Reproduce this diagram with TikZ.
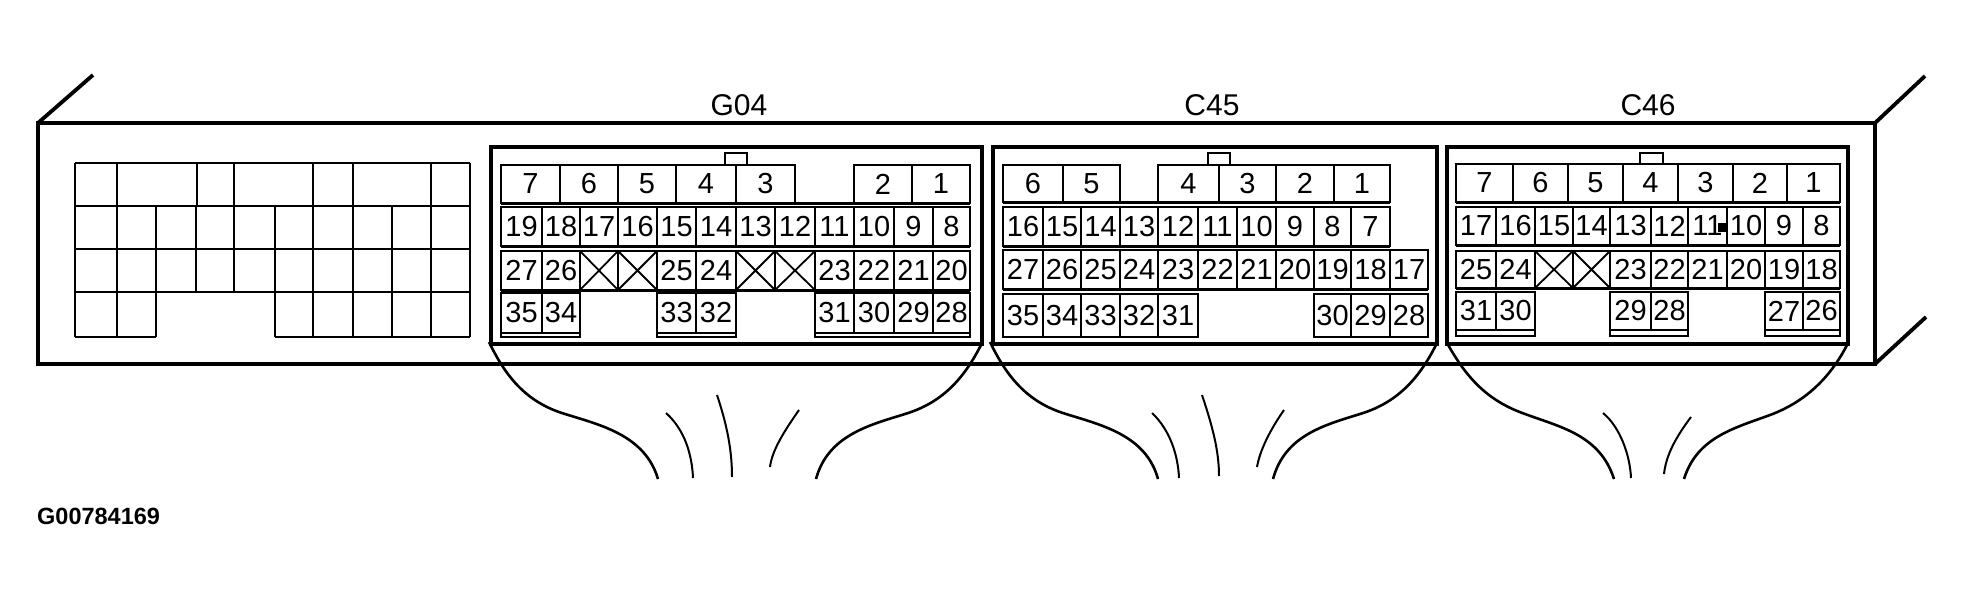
\documentclass[tikz,border=0pt]{standalone}
\usepackage{fontspec}
\setmainfont{Liberation Sans}

\tikzset{
  frameline/.style={line width=3.8pt,line join=miter},
  gridline/.style={line width=2pt},
  pinbox/.style={line width=1.8pt},
  sepline/.style={line width=3pt},
  wirebig/.style={line width=2.6pt},
  wiresmall/.style={line width=2pt},
  pinlabel/.style={inner sep=0pt,font=\fontsize{29}{29}\selectfont},
  title/.style={inner sep=0pt,font=\fontsize{30}{30}\selectfont},
}

% one row of pin cells: prefix, top, bottom, list of left/right/label
\newcommand{\pinrow}[4]{
  \foreach \xa/\xb/\lab in {#4} {
    \draw[pinbox] (\xa,#2) rectangle (\xb,#3);
    \node[pinlabel] (#1-\lab) at ({(\xa+\xb)/2},{(#2+#3)/2}) {\lab};
  }
}
% blanked cells with a cross
\newcommand{\pincross}[3]{
  \foreach \xa/\xb in {#3} {
    \draw[pinbox] (\xa,#1) rectangle (\xb,#2);
    \draw[pinbox] (\xa,#1) -- (\xb,#2) (\xa,#2) -- (\xb,#1);
  }
}

\begin{document}
\begin{tikzpicture}[x=1pt,y=-1pt]
\useasboundingbox (0,0) rectangle (1965,599);

% housing
\draw[frameline] (38,123) rectangle (1875,364);
\draw[frameline] (38,123) -- (93,75);
\draw[frameline] (1875,123) -- (1925,76);
\draw[frameline] (1875,364) -- (1926,317);

% blank socket on the left
\foreach \y in {163,206,249,292} { \draw[gridline] (75,\y) -- (470,\y); }
\draw[gridline] (75,337) -- (156,337);
\draw[gridline] (275,337) -- (470,337);
\foreach \x in {75,117,197,234,313,353,431,470} { \draw[gridline] (\x,163) -- (\x,206); }
\foreach \x in {75,117,156,196,234,275,313,353,392,431,470} { \draw[gridline] (\x,206) -- (\x,292); }
\foreach \x in {75,117,156,275,313,353,392,431,470} { \draw[gridline] (\x,292) -- (\x,337); }

% G04
\node[title] (titleG) at (739,105) {G04};
\draw[frameline] (491,147) rectangle (982,344);
\draw[pinbox] (725,165) -- (725,153) -- (747,153) -- (747,165);
\pinrow{g}{165}{203}{501/560/7,560/618/6,618/676/5,676/736/4,736/795/3,854/912/2,912/970/1}
\pinrow{g}{207}{246}{501/542/19,542/580/18,580/618/17,618/657/16,657/696/15,696/736/14,736/775/13,775/815/12,815/854/11,854/894/10,894/933/9,933/970/8}
\pinrow{g}{251}{290}{501/542/27,542/580/26,657/696/25,696/736/24,815/854/23,854/894/22,894/933/21,933/970/20}
\pincross{251}{290}{580/618,618/657,736/775,775/815}
\pinrow{g}{293}{333}{501/542/35,542/580/34,657/696/33,696/736/32,815/854/31,854/894/30,894/933/29,933/970/28}
\foreach \y in {203,246,290} { \draw[sepline] (501,\y) -- (970,\y); }
\foreach \xa/\xb in {501/580,657/736,815/970} {
  \draw[pinbox] (\xa,333) rectangle (\xb,337);
}

% C45
\node[title] (titleC) at (1212,105) {C45};
\draw[frameline] (993,147) rectangle (1437,344);
\draw[pinbox] (1208,165) -- (1208,153) -- (1230,153) -- (1230,165);
\pinrow{c}{165}{202}{1003/1063/6,1063/1120/5,1158/1219/4,1219/1276/3,1276/1334/2,1334/1390/1}
\pinrow{c}{207}{246}{1003/1043/16,1043/1081/15,1081/1120/14,1120/1158/13,1158/1198/12,1198/1237/11,1237/1276/10,1276/1314/9,1314/1351/8,1351/1390/7}
\pinrow{c}{250}{289}{1003/1043/27,1043/1081/26,1081/1120/25,1120/1158/24,1158/1198/23,1198/1237/22,1237/1276/21,1276/1314/20,1314/1351/19,1351/1390/18,1390/1428/17}
\pinrow{c}{294}{337}{1003/1043/35,1043/1081/34,1081/1120/33,1120/1158/32,1158/1198/31,1314/1351/30,1351/1390/29,1390/1428/28}
\draw[sepline] (1003,202) -- (1390,202);
\draw[sepline] (1003,246) -- (1390,246);
\draw[sepline] (1003,289) -- (1428,289);

% C46
\node[title] (titleD) at (1648,105) {C46};
\draw[frameline] (1447,147) rectangle (1848,344);
\draw[pinbox] (1640,164) -- (1640,153) -- (1663,153) -- (1663,164);
\pinrow{d}{164}{202}{1456/1513/7,1513/1568/6,1568/1623/5,1623/1678/4,1678/1733/3,1733/1787/2,1787/1840/1}
\pinrow{d}{207}{245}{1456/1496/17,1496/1535/16,1535/1573/15,1573/1610/14,1610/1651/13,1651/1688/12,1688/1727/11,1727/1765/10,1765/1803/9,1803/1840/8}
\pinrow{d}{251}{288}{1456/1496/25,1496/1535/24,1610/1651/23,1651/1688/22,1688/1727/21,1727/1765/20,1765/1803/19,1803/1840/18}
\pincross{251}{288}{1535/1573,1573/1610}
\pinrow{d}{292}{330}{1456/1496/31,1496/1535/30,1610/1651/29,1651/1688/28,1765/1803/27,1803/1840/26}
\foreach \y in {202,245,288} { \draw[sepline] (1456,\y) -- (1840,\y); }
\foreach \xa/\xb in {1456/1535,1610/1688,1765/1840} {
  \draw[pinbox] (\xa,330) rectangle (\xb,336);
}
\fill (1718,223) rectangle (1727,232);

% wire bundles
\draw[wirebig] (489,342) .. controls (505,375) and (525,402) .. (565,414) .. controls (600,425) and (645,435) .. (658,479);
\draw[wirebig] (982,343) .. controls (966,375) and (945,402) .. (905,414) .. controls (870,425) and (828,435) .. (816,479);
\draw[wiresmall] (666,413) .. controls (685,430) and (692,455) .. (693,478);
\draw[wiresmall] (717,395) .. controls (727,425) and (732,450) .. (732,477);
\draw[wiresmall] (799,410) .. controls (785,430) and (772,450) .. (770,467);

\draw[wirebig] (990,342) .. controls (1006,375) and (1026,402) .. (1066,414) .. controls (1101,425) and (1146,435) .. (1158,479);
\draw[wirebig] (1437,343) .. controls (1421,375) and (1400,402) .. (1360,414) .. controls (1325,425) and (1285,435) .. (1273,479);
\draw[wiresmall] (1152,413) .. controls (1170,430) and (1178,455) .. (1179,478);
\draw[wiresmall] (1202,395) .. controls (1212,425) and (1219,450) .. (1219,476);
\draw[wiresmall] (1284,410) .. controls (1270,430) and (1260,450) .. (1257,467);

\draw[wirebig] (1447,343) .. controls (1465,375) and (1485,400) .. (1525,414) .. controls (1560,427) and (1600,435) .. (1614,479);
\draw[wirebig] (1847,345) .. controls (1830,378) and (1805,402) .. (1770,415) .. controls (1735,428) and (1697,437) .. (1684,479);
\draw[wiresmall] (1603,413) .. controls (1620,427) and (1630,455) .. (1631,478);
\draw[wiresmall] (1691,417) .. controls (1676,437) and (1666,455) .. (1664,474);

\node[inner sep=0pt,anchor=west,font=\fontsize{23.5}{23.5}\selectfont\bfseries] (partno) at (37,516) {G00784169};
\end{tikzpicture}
\end{document}
